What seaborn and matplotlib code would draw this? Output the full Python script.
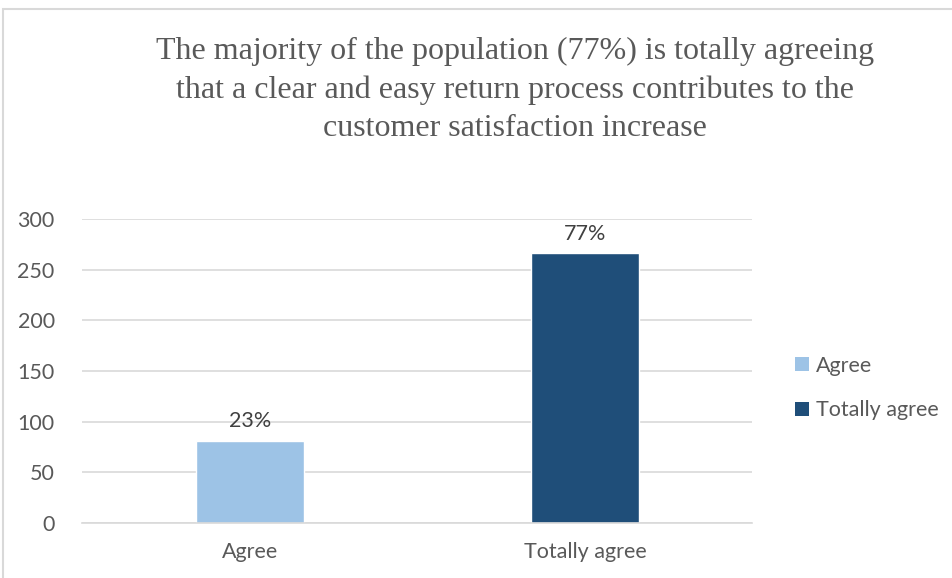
import matplotlib
matplotlib.use("Agg")
import matplotlib.pyplot as plt
from matplotlib.patches import Rectangle, Patch
import seaborn as sns
import pandas as pd

categories = ["Agree", "Totally agree"]
counts = [81, 266]
percent_labels = ["23%", "77%"]
colors = ["#9DC3E6", "#1F4E79"]
y_ticks = [0, 50, 100, 150, 200, 250, 300]
title = ("The majority of the population (77%) is totally agreeing\n"
         "that a clear and easy return process contributes to the\n"
         "customer satisfaction increase")

sns.set_theme(style="white")
plt.rcParams["font.family"] = ["Lato", "DejaVu Sans"]

df = pd.DataFrame({"category": categories, "count": counts})

fig = plt.figure(figsize=(9.53, 5.78), dpi=100)
ax = fig.add_axes([82.5 / 953, 1 - 523 / 578, 670 / 953, 304 / 578])

sns.barplot(data=df, x="category", y="count", hue="category",
            palette=colors, width=0.32, dodge=False, legend=False,
            ax=ax, saturation=1)

ax.set_ylim(0, 300)
ax.set_yticks(y_ticks)
ax.set_xlim(-0.5, 1.5)
ax.yaxis.grid(True, color="#D9D9D9", linewidth=1.2)
ax.set_axisbelow(True)
for s in ["top", "right", "left"]:
    ax.spines[s].set_visible(False)
ax.spines["bottom"].set_color("#D9D9D9")
ax.spines["bottom"].set_linewidth(1.2)
ax.tick_params(axis="both", length=0, labelsize=15.5, colors="#595959")
ax.tick_params(axis="y", pad=20)
ax.tick_params(axis="x", pad=14)
ax.set_xlabel("")
ax.set_ylabel("")

for i, (v, lab) in enumerate(zip(counts, percent_labels)):
    ax.annotate(lab, (i, v), xytext=(0, 7), textcoords="offset points",
                ha="center", va="bottom", fontsize=15.5, color="#404040")

handles = [Patch(facecolor=c, edgecolor="none") for c in colors]
fig.legend(handles, categories, loc="center left",
           bbox_to_anchor=(776 / 953, 1 - 388 / 578), frameon=False,
           fontsize=15.5, labelcolor="#595959", handlelength=0.65,
           handleheight=0.65, handletextpad=0.3, labelspacing=1.15)

fig.text(515 / 953, 1 - 90 / 578, title, ha="center",
         va="center", fontsize=23, color="#595959",
         family=["Liberation Serif"], linespacing=1.42)

fig.patches.append(Rectangle((3 / 953, -0.1), 1.2, 1 - 9 / 578 + 0.1,
                             transform=fig.transFigure, fill=False,
                             edgecolor="#D9D9D9", linewidth=1.5))

fig.savefig("out.png", dpi=100)
